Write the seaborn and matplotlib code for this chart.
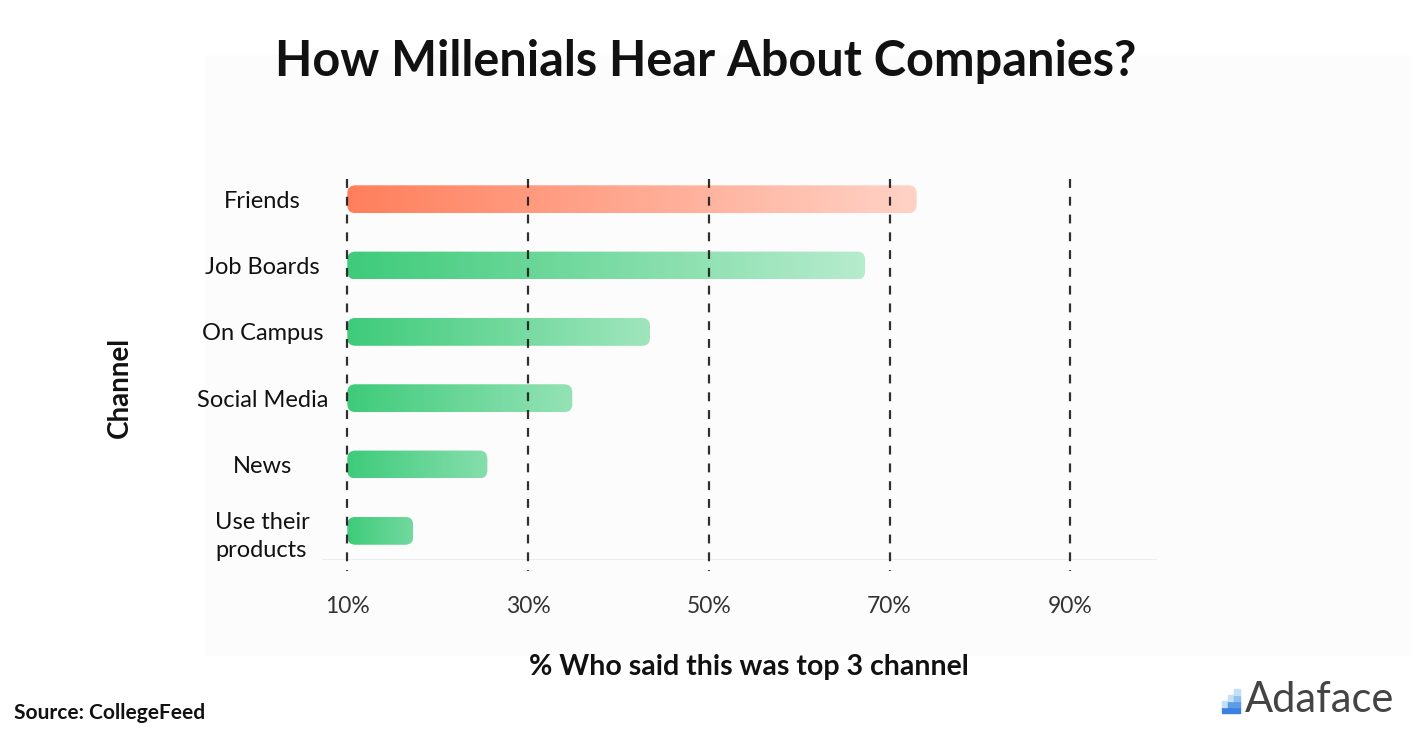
import numpy as np
import pandas as pd
import matplotlib
matplotlib.use('Agg')
import matplotlib.pyplot as plt
import matplotlib.colors as mcolors
from matplotlib.patches import FancyBboxPatch, Rectangle
import seaborn as sns

# data
channels = ['Friends', 'Job Boards', 'On Campus', 'Social Media', 'News', 'Use their\nproducts']
pct = [73.0, 67.3, 43.5, 34.9, 25.5, 17.3]
bar_colors = ['#ff7f5c', '#3ecb7a', '#3ecb7a', '#3ecb7a', '#3ecb7a', '#3ecb7a']
ticks = [10, 30, 50, 70, 90]
tick_labels = ['10%', '30%', '50%', '70%', '90%']
start = 10

df = pd.DataFrame({'channel': channels, 'pct': pct})

sns.set_theme(style='white')
plt.rcParams['font.family'] = ['Lato', 'DejaVu Sans']

W, H = 1412, 740
fig = plt.figure(figsize=(W / 100, H / 100), dpi=100)
fig.patch.set_facecolor('white')
# faint panel behind the chart
fig.patches.append(Rectangle((205 / W, 1 - 655 / H), 1 - 205 / W, 600 / H,
                             transform=fig.transFigure, color='#fcfcfc', zorder=-10))

ax = fig.add_axes([322 / W, 1 - 560 / H, 835 / W, 380 / H])
ax.set_facecolor('none')
sns.barplot(data=df, y='channel', x='pct', orient='h', ax=ax, width=0.42)

# swap seaborn's plain bars for rounded gradient ones starting at 10%
wmax = max(pct) - start
for p, val, col in zip(list(ax.patches), pct, bar_colors):
    y0, h = p.get_y(), p.get_height()
    p.remove()
    w = val - start
    keep = 1 - 0.65 * (w / wmax) ** 0.4
    base = np.array(mcolors.to_rgb(col))
    end = base * keep + (1 - keep)
    t = np.linspace(0, 1, 256)[None, :, None]
    grad = base[None, None, :] * (1 - t) + end[None, None, :] * t
    box = FancyBboxPatch((start, y0), w, h, boxstyle='round,pad=0,rounding_size=0.9',
                         mutation_aspect=0.135, facecolor='none', edgecolor='none')
    ax.add_patch(box)
    im = ax.imshow(grad, extent=(start, val, y0 + h, y0), aspect='auto', zorder=2)
    im.set_clip_path(box)

ax.set_xlim(7.2, 99.6)
ax.set_ylim(5.44, -0.29)

# dashed guide lines
for t in ticks:
    ax.plot([t, t], [-0.3, 5.6], color='#1a1a1a', lw=1.6, ls=(0, (4, 4)),
            zorder=3, clip_on=False, alpha=0.9)

# light baseline
ax.axhline(5.44, color='#e9edf0', lw=2, zorder=1)

sns.despine(ax=ax, left=True, bottom=True, top=True, right=True)
ax.set_xticks(ticks)
ax.set_xticklabels(tick_labels)
ax.tick_params(axis='x', length=0, pad=26, labelsize=16.5, labelcolor='#333333')
ax.tick_params(axis='y', length=0, pad=43, labelsize=17, labelcolor='#111111')
for lbl in ax.get_yticklabels():
    lbl.set_ha('center')
    lbl.set_multialignment('left')
    lbl.set_linespacing(1.45)

ax.set_xlabel('% Who said this was top 3 channel', fontsize=20.5, fontweight='bold',
              color='#111111')
ax.xaxis.set_label_coords((749 - 322) / 835, -(667 - 560) / 380)
ax.xaxis.label.set_va('center')
ax.set_ylabel('Channel', fontsize=20, fontweight='bold', color='#111111')
ax.yaxis.set_label_coords(-(322 - 120) / 835, (560 - 387) / 380)
ax.yaxis.label.set_va('center')

fig.text(706 / W, 1 - 62 / H, 'How Millenials Hear About Companies?', ha='center',
         va='center', fontsize=35, fontweight='bold', color='#111111')
fig.text(14 / W, 1 - 713 / H, 'Source: CollegeFeed', ha='left', va='center',
         fontsize=15, fontweight='bold', color='#111111')

# Adaface mark
blues = ['#3b82e0', '#5c9be8', '#8fc0f0', '#c3e0f8']
sq = 6
for col in range(3):
    for row in range(col + 2):
        c = blues[min(row, 3)] if row < col + 1 else blues[3]
        fig.patches.append(Rectangle(((1222 + col * sq) / W, 1 - (713 - row * sq) / H),
                                     sq / W, sq / H, transform=fig.transFigure,
                                     color=c, zorder=5))
fig.text(1245 / W, 1 - 700 / H, 'Adaface', ha='left', va='center',
         fontsize=30, color='#444444')

fig.savefig('out.png', dpi=100)
